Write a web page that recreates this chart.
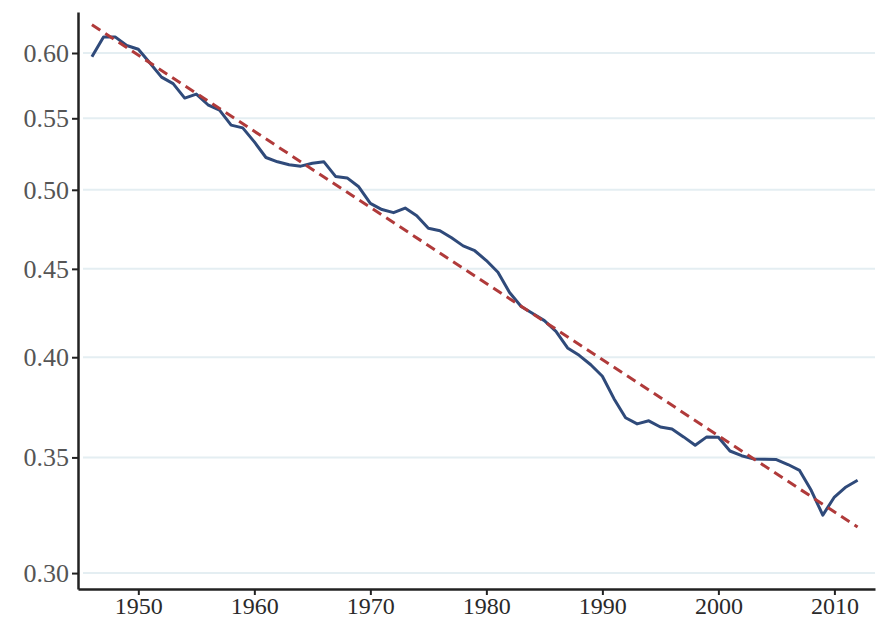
<!DOCTYPE html>
<html>
<head>
<meta charset="utf-8">
<script src="https://cdn.jsdelivr.net/npm/d3@7"></script>
<style>
  body { margin: 0; background: #fff; }
  .axis text { font-family: "Liberation Serif", "DejaVu Serif", serif; }
</style>
</head>
<body>
<script>
// values (annual)
const years = [
  1946, 1947, 1948, 1949, 1950, 1951, 1952, 1953, 1954, 1955,
  1956, 1957, 1958, 1959, 1960, 1961, 1962, 1963, 1964, 1965,
  1966, 1967, 1968, 1969, 1970, 1971, 1972, 1973, 1974, 1975,
  1976, 1977, 1978, 1979, 1980, 1981, 1982, 1983, 1984, 1985,
  1986, 1987, 1988, 1989, 1990, 1991, 1992, 1993, 1994, 1995,
  1996, 1997, 1998, 1999, 2000, 2001, 2002, 2003, 2004, 2005,
  2006, 2007, 2008, 2009, 2010, 2011, 2012
];
const share = [
  0.597, 0.613, 0.613, 0.606, 0.603, 0.592, 0.581, 0.576, 0.565, 0.568,
  0.560, 0.556, 0.545, 0.543, 0.533, 0.522, 0.519, 0.517, 0.516, 0.518,
  0.519, 0.509, 0.508, 0.502, 0.491, 0.487, 0.485, 0.488, 0.483, 0.475,
  0.4735, 0.469, 0.464, 0.461, 0.455, 0.448, 0.436, 0.428, 0.424, 0.420,
  0.414, 0.405, 0.401, 0.396, 0.390, 0.3785, 0.369, 0.366, 0.3675, 0.3645,
  0.3635, 0.3597, 0.3557, 0.3597, 0.3595, 0.353, 0.3508, 0.3493, 0.3491, 0.349,
  0.3467, 0.344, 0.335, 0.3241, 0.332, 0.3365, 0.3395
];
// fitted trend (straight on the log axis)
const trendYears = [1946, 2012];
const trendValues = [0.623, 0.319];

const xTicks = [1950, 1960, 1970, 1980, 1990, 2000, 2010];
const yTicks = [0.30, 0.35, 0.40, 0.45, 0.50, 0.55, 0.60];

const w = 880;
const h = 621;
const margin = { top: 12, right: 5, bottom: 32, left: 78 };

const xScale = d3
  .scaleLinear()
  .domain([1944.8, 2013.5])
  .range([margin.left, w - margin.right]);

const yScale = d3
  .scaleLog()
  .domain([0.2937, 0.6337])
  .range([h - margin.bottom, margin.top]);

const svg = d3
  .select("body")
  .append("svg")
  .attr("width", w)
  .attr("height", h);

// grid lines
svg
  .append("g")
  .selectAll("line")
  .data(yTicks)
  .enter()
  .append("line")
  .attr("x1", margin.left + 5)
  .attr("x2", w - margin.right)
  .attr("y1", (d) => yScale(d))
  .attr("y2", (d) => yScale(d))
  .attr("stroke", "#e4eef2")
  .attr("stroke-width", 2);

const xAxis = d3
  .axisBottom(xScale)
  .tickValues(xTicks)
  .tickFormat(d3.format("d"))
  .tickSizeInner(6)
  .tickSizeOuter(0)
  .tickPadding(2);

const yAxis = d3
  .axisLeft(yScale)
  .tickValues(yTicks)
  .tickFormat(d3.format(".2f"))
  .tickSizeInner(6)
  .tickSizeOuter(0)
  .tickPadding(3);

const gx = svg
  .append("g")
  .attr("class", "axis")
  .attr("transform", `translate(0, ${h - margin.bottom})`)
  .call(xAxis);

const gy = svg
  .append("g")
  .attr("class", "axis")
  .attr("transform", `translate(${margin.left}, 0)`)
  .call(yAxis);

[gx, gy].forEach((g) => {
  g.select(".domain").attr("stroke", "#222").attr("stroke-width", 2.5);
  g.selectAll(".tick line").attr("stroke", "#222").attr("stroke-width", 2);
});
gx.selectAll("text").style("font-size", "24px").attr("fill", "#2a2a2a");
gy.selectAll("text").style("font-size", "26px").attr("fill", "#555");

const line = d3
  .line()
  .x((d) => xScale(d[0]))
  .y((d) => yScale(d[1]));

svg
  .append("path")
  .datum(years.map((y, i) => [y, share[i]]))
  .attr("d", line)
  .attr("fill", "none")
  .attr("stroke", "#2f4a7a")
  .attr("stroke-width", 3)
  .attr("stroke-linejoin", "round");

svg
  .append("path")
  .datum(trendYears.map((y, i) => [y, trendValues[i]]))
  .attr("d", line)
  .attr("fill", "none")
  .attr("stroke", "#b03a3a")
  .attr("stroke-width", 3)
  .attr("stroke-dasharray", "10,6");
</script>
</body>
</html>
